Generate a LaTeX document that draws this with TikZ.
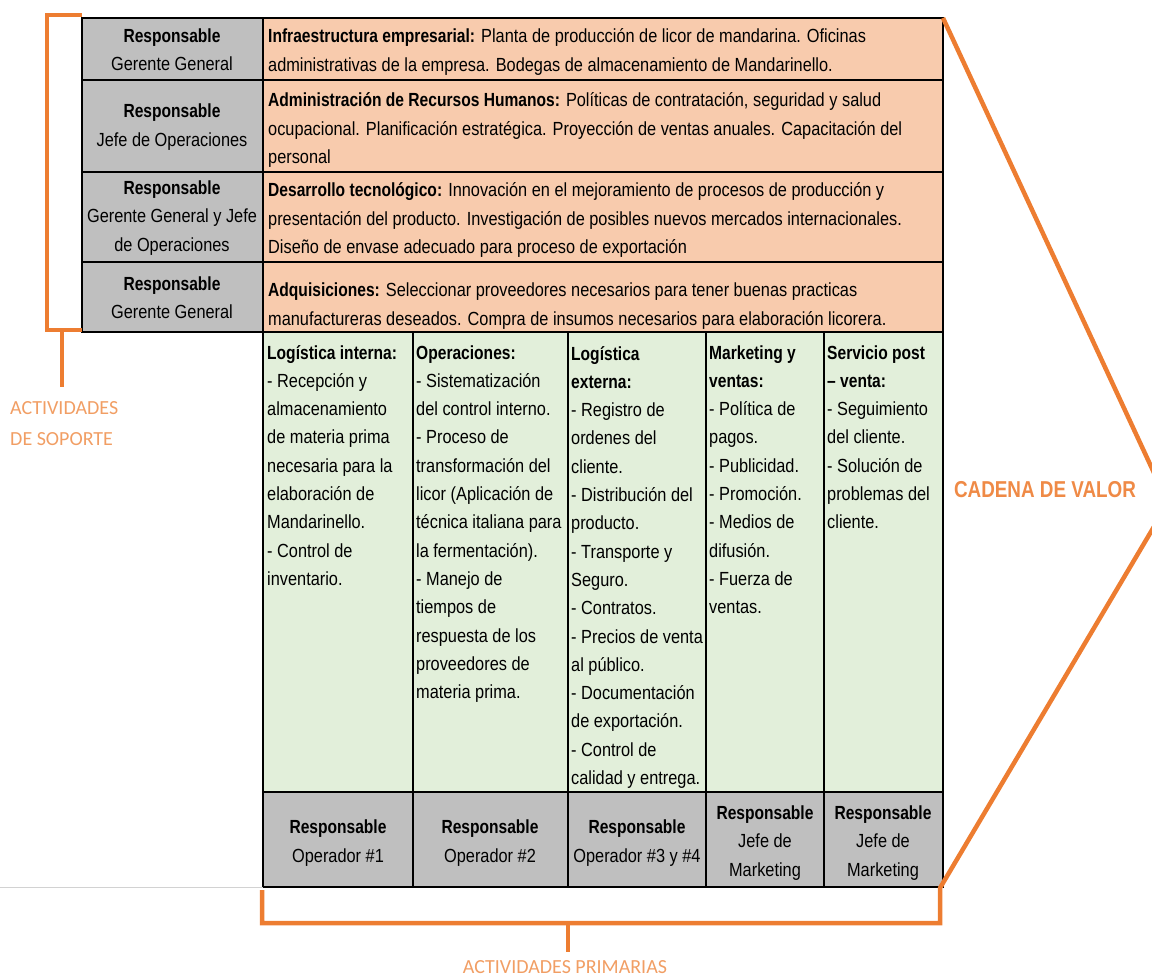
\documentclass[tikz,border=0pt]{standalone}
\usepackage{xcolor}
\usepackage{fontspec}
\usepackage{tikz}
\usetikzlibrary{
  positioning,
  calc
}
\newfontfamily\narrowfont{Liberation Sans}[
  UprightFeatures={FakeStretch=0.86},
  BoldFeatures={FakeStretch=0.82}]
\newfontfamily\labelfont{Carlito}
\newcommand{\cellfont}{\narrowfont\fontsize{19}{28.3}\selectfont}
\definecolor{cvOrange}{HTML}{ED7D31}
\definecolor{cvPeach}{HTML}{F8CBAD}
\definecolor{cvGreen}{HTML}{E2EFDA}
\definecolor{cvGray}{HTML}{BFBFBF}

\begin{document}
\begin{tikzpicture}[x=1pt, y=-1pt,
  cell/.style={draw=black, line width=1.3pt},
  sidetext/.style={font=\cellfont, align=center, inner sep=0pt},
  rowtext/.style={font=\cellfont, align=left, anchor=west, inner sep=0pt},
  coltext/.style={font=\cellfont, align=left, anchor=north west, inner sep=0pt},
  bracket/.style={draw=cvOrange, line width=4.5pt, line join=miter},
  bracketlabel/.style={font=\labelfont\fontsize{20}{31}\selectfont, text=cvOrange!75, inner sep=0pt}]

  \useasboundingbox (0,0) rectangle (1152,979);
  \clip (0,0) rectangle (1152,979);

  % support activities (gray owners + peach rows)
  \fill[cvGray] (82,18) rectangle (263,332);
  \fill[cvPeach] (263,18) rectangle (943,332);
  % primary activities (green columns + gray owners band)
  \fill[cvGreen] (263,332) rectangle (943,792);
  \fill[cvGray] (263,792) rectangle (943,887);

  % grid lines
  \draw[cell] (82,18) rectangle (943,332);
  \foreach \y in {80,172,262} \draw[cell] (82,\y) -- (943,\y);
  \draw[cell] (263,18) -- (263,887) -- (943,887) -- (943,332);
  \draw[cell] (263,792) -- (943,792);
  \foreach \x in {413,568,706,824} \draw[cell] (\x,332) -- (\x,887);
  \draw[gray!35, line width=0.8pt] (0,887) -- (263,887);

  % owners of support activities
  \node[sidetext] (ownInfra) at (172,50) {\textbf{Responsable}\\Gerente General};
  \node[sidetext] (ownRRHH) at (172,127) {\textbf{Responsable}\\Jefe de Operaciones};
  \node[sidetext] (ownTec) at (172,218) {\textbf{Responsable}\\Gerente General y Jefe\\de Operaciones};
  \node[sidetext] (ownAdq) at (172,298) {\textbf{Responsable}\\Gerente General};

  % support activities
  \node[rowtext] (infra) at (268,52) {\textbf{Infraestructura empresarial:} Planta de producción de licor de mandarina. Oficinas\\
    administrativas de la empresa. Bodegas de almacenamiento de Mandarinello.};
  \node[rowtext] (rrhh) at (268,130) {\textbf{Administración de Recursos Humanos:} Políticas de contratación, seguridad y salud\\
    ocupacional. Planificación estratégica. Proyección de ventas anuales. Capacitación del\\
    personal};
  \node[rowtext] (tec) at (268,220) {\textbf{Desarrollo tecnológico:} Innovación en el mejoramiento de procesos de producción y\\
    presentación del producto. Investigación de posibles nuevos mercados internacionales.\\
    Diseño de envase adecuado para proceso de exportación};
  \node[rowtext] (adq) at (268,306) {\textbf{Adquisiciones:} Seleccionar proveedores necesarios para tener buenas practicas\\
    manufactureras deseados. Compra de insumos necesarios para elaboración licorera.};

  % primary activities
  \node[coltext] (logIn) at (267,339) {\strut\textbf{Logística interna:}\\- Recepción y\\almacenamiento\\de materia prima\\
    necesaria para la\\elaboración de\\Mandarinello.\\- Control de\\inventario.};
  \node[coltext] (oper) at (416,339) {\strut\textbf{Operaciones:}\\- Sistematización\\del control interno.\\- Proceso de\\
    transformación del\\licor (Aplicación de\\técnica italiana para\\la fermentación).\\- Manejo de\\tiempos de\\
    respuesta de los\\proveedores de\\materia prima.};
  \node[coltext] (logOut) at (571,340) {\strut\textbf{Logística}\\\textbf{externa:}\\- Registro de\\ordenes del\\cliente.\\
    - Distribución del\\producto.\\- Transporte y\\Seguro.\\- Contratos.\\- Precios de venta\\al público.\\
    - Documentación\\de exportación.\\- Control de\\calidad y entrega.};
  \node[coltext] (mkt) at (709,339) {\strut\textbf{Marketing y}\\\textbf{ventas:}\\- Política de\\pagos.\\- Publicidad.\\
    - Promoción.\\- Medios de\\difusión.\\- Fuerza de\\ventas.};
  \node[coltext] (post) at (827,339) {\strut\textbf{Servicio post}\\\textbf{– venta:}\\- Seguimiento\\del cliente.\\
    - Solución de\\problemas del\\cliente.};

  % owners of primary activities
  \node[sidetext] (ownLogIn) at (338,843) {\textbf{Responsable}\\Operador \#1};
  \node[sidetext] (ownOper) at (490,843) {\textbf{Responsable}\\Operador \#2};
  \node[sidetext] (ownLogOut) at (637,843) {\textbf{Responsable}\\Operador \#3 y \#4};
  \node[sidetext] (ownMkt) at (765,843) {\textbf{Responsable}\\Jefe de\\Marketing};
  \node[sidetext] (ownPost) at (883,843) {\textbf{Responsable}\\Jefe de\\Marketing};

  % brackets
  \coordinate (supTop) at (82,15);
  \coordinate (supBot) at (82,330);
  \coordinate (supTick) at (62,330);
  \draw[bracket] (supTop) -| (47,330) -- (supBot);
  \draw[bracket] (supTick) -- ++(0,57) coordinate (supEnd);
  \node[bracketlabel, align=left, anchor=north west] (supLabel) at (10,401) {ACTIVIDADES\\DE SOPORTE};

  \coordinate (chevTop) at (943,18);
  \coordinate (chevTip) at (1168,503);
  \coordinate (chevBot) at (940,888);
  \draw[bracket] (chevTop) -- (chevTip) -- (chevBot) -- (940,923) -- (262,923) -- (262,890);
  \draw[bracket] (568,923) -- (568,952) coordinate (priEnd);
  \node[bracketlabel] (priLabel) at (565,967) {ACTIVIDADES PRIMARIAS};

  \node[font=\narrowfont\bfseries\fontsize{23}{28}\selectfont, text=cvOrange!90, inner sep=0pt] (chain) at (1045,490) {CADENA DE VALOR};
\end{tikzpicture}
\end{document}
